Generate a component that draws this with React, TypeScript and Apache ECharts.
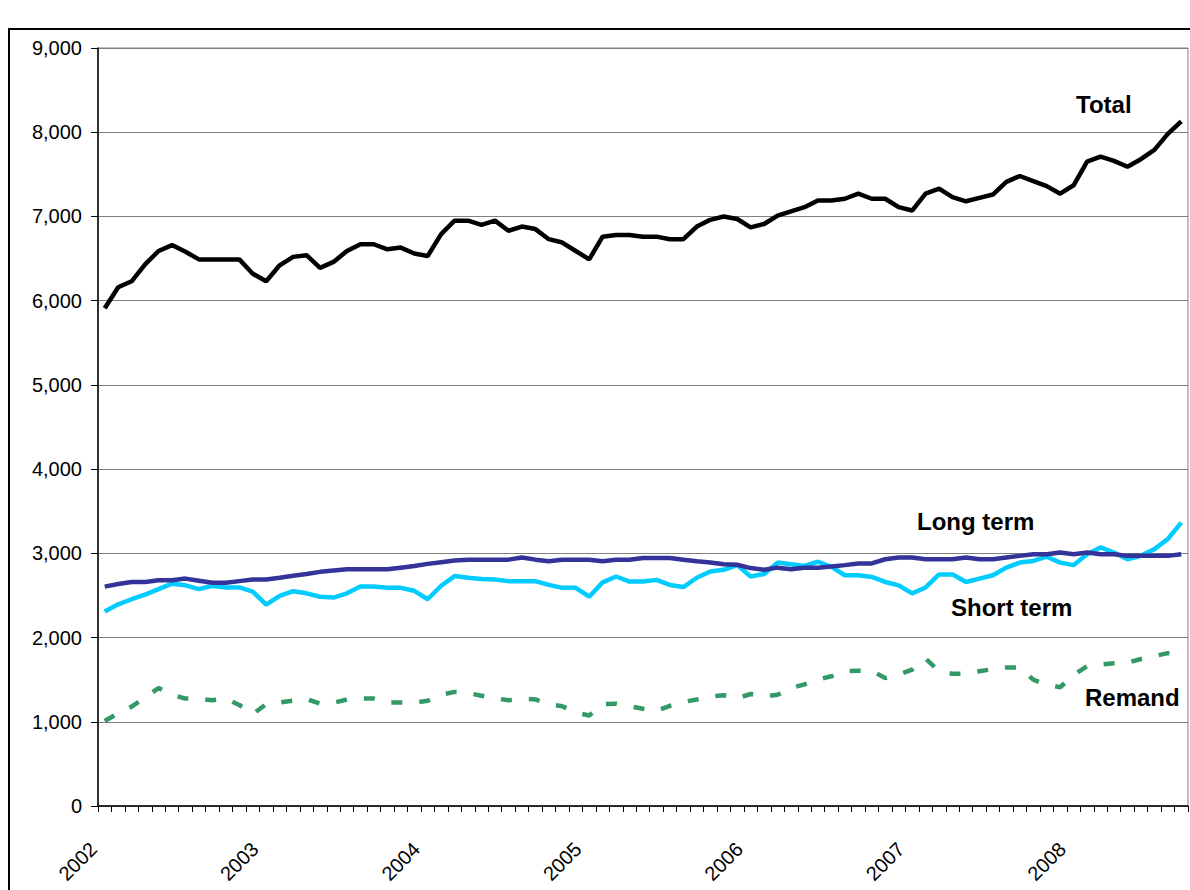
import React, { useEffect, useRef } from "react";
import * as echarts from "echarts";

// Years shown as tick labels (January of each year)
const years = ["2002", "2003", "2004", "2005", "2006", "2007", "2008"];
const monthCodes = ["01", "02", "03", "04", "05", "06", "07", "08", "09", "10", "11", "12"];
const monthCount = 81; // Jan 2002 .. Sep 2008

const categories: string[] = [];
years.forEach((y) => monthCodes.forEach((m) => categories.push(`${y}-${m}`)));
const months = categories.slice(0, monthCount);

const total = [
  5910, 6160, 6230, 6430, 6590, 6660, 6580, 6490, 6490, 6490, 6490,
  6320, 6230, 6420, 6520, 6540, 6390, 6460, 6590, 6670, 6670,
  6610, 6630, 6560, 6530, 6790, 6950, 6950, 6900, 6950, 6830,
  6880, 6850, 6730, 6690, 6590, 6490, 6760, 6780, 6780, 6760,
  6760, 6730, 6730, 6880, 6960, 7000, 6970, 6870, 6910, 7010,
  7060, 7110, 7190, 7190, 7210, 7270, 7210, 7210, 7110, 7070,
  7270, 7330, 7230, 7180, 7220, 7260, 7410, 7480, 7420, 7360,
  7270, 7370, 7650, 7710, 7660, 7590, 7680, 7790, 7980, 8130,
];

const longTerm = [
  2605, 2635, 2660, 2660, 2680, 2680, 2700, 2675, 2650, 2650, 2670,
  2690, 2690, 2710, 2735, 2755, 2780, 2795, 2810, 2810, 2810,
  2810, 2830, 2850, 2875, 2895, 2915, 2925, 2925, 2925, 2925,
  2950, 2925, 2905, 2925, 2925, 2925, 2905, 2925, 2925, 2945,
  2945, 2945, 2925, 2905, 2890, 2870, 2865, 2825, 2805, 2830,
  2810, 2830, 2830, 2845, 2860, 2880, 2880, 2930, 2950, 2950,
  2930, 2930, 2930, 2950, 2930, 2930, 2950, 2970, 2990, 2990,
  3010, 2990, 3010, 2990, 2990, 2970, 2970, 2970, 2970, 2990,
];

const shortTerm = [
  2310, 2395, 2455, 2510, 2575, 2640, 2620, 2575, 2615, 2595, 2595,
  2545, 2390, 2495, 2550, 2525, 2485, 2475, 2525, 2605, 2605,
  2590, 2590, 2555, 2455, 2615, 2730, 2710, 2695, 2690, 2670,
  2670, 2670, 2625, 2590, 2590, 2485, 2655, 2725, 2665, 2665,
  2685, 2625, 2600, 2710, 2785, 2805, 2860, 2725, 2755, 2890,
  2870, 2850, 2900, 2840, 2740, 2740, 2720, 2660, 2620, 2525,
  2595, 2750, 2750, 2660, 2700, 2740, 2830, 2890, 2910, 2960,
  2890, 2860, 2990, 3070, 3010, 2930, 2970, 3050, 3170, 3365,
];

const remand = [
  1010, 1100, 1180, 1290, 1400, 1320, 1275, 1275, 1255, 1275, 1200,
  1090, 1210, 1230, 1250, 1270, 1215, 1225, 1265, 1275, 1275,
  1230, 1230, 1225, 1250, 1320, 1355, 1340, 1310, 1280, 1255,
  1275, 1265, 1210, 1185, 1110, 1075, 1210, 1215, 1185, 1155,
  1130, 1190, 1235, 1265, 1300, 1315, 1280, 1330, 1300, 1320,
  1400, 1445, 1500, 1540, 1600, 1605, 1605, 1520, 1560, 1620,
  1750, 1600, 1570, 1570, 1600, 1625, 1645, 1645, 1500, 1440,
  1410, 1555, 1660, 1680, 1695, 1700, 1745, 1780, 1815, 1785,
];

const FONT = '"Liberation Sans", Arial, sans-serif';

export default function App() {
  const ref = useRef<HTMLDivElement>(null);

  useEffect(() => {
    if (!ref.current) return;
    const chart = echarts.init(ref.current, undefined, { renderer: "svg" });
    const label = (text: string, x: number, y: number) => ({
      type: "text",
      x,
      y,
      silent: true,
      z: 100,
      style: {
        text,
        fill: "#000",
        font: `bold 24px ${FONT}`,
        align: "left",
        verticalAlign: "middle",
      },
    });
    chart.setOption({
      animation: false,
      backgroundColor: "#ffffff",
      grid: {
        left: 98,
        top: 48,
        right: 2,
        bottom: 84,
        show: true,
        borderColor: "#808080",
        borderWidth: 1,
        backgroundColor: "transparent",
      },
      xAxis: {
        type: "category",
        data: months,
        boundaryGap: true,
        axisLine: { show: true, lineStyle: { color: "#000", width: 1.5 } },
        axisTick: { show: true, interval: 0, length: 6, lineStyle: { color: "#000", width: 1 } },
        axisLabel: {
          interval: 11,
          rotate: 45,
          fontSize: 20,
          fontFamily: FONT,
          color: "#000",
          margin: 51,
          verticalAlign: "bottom",
          padding: [0, 0, 6, 0],
          formatter: (v: string) => v.slice(0, 4),
        },
        splitLine: { show: false },
      },
      yAxis: {
        type: "value",
        min: 0,
        max: 9000,
        interval: 1000,
        axisLine: { show: true, lineStyle: { color: "#000", width: 1.5 } },
        axisTick: { show: true, length: 7, lineStyle: { color: "#000", width: 1 } },
        axisLabel: {
          fontSize: 20,
          fontFamily: FONT,
          color: "#000",
          margin: 16,
          formatter: (v: number) => v.toLocaleString("en-US"),
        },
        splitLine: { show: true, lineStyle: { color: "#808080", width: 1.2 } },
      },
      series: [
        {
          name: "Remand",
          type: "line",
          data: remand,
          symbol: "none",
          lineStyle: { color: "#339966", width: 4.5, type: [11, 17] },
          z: 2,
        },
        {
          name: "Short term",
          type: "line",
          data: shortTerm,
          symbol: "none",
          lineStyle: { color: "#00CCFF", width: 4.5 },
          z: 3,
        },
        {
          name: "Long term",
          type: "line",
          data: longTerm,
          symbol: "none",
          lineStyle: { color: "#333399", width: 4.5 },
          z: 4,
        },
        {
          name: "Total",
          type: "line",
          data: total,
          symbol: "none",
          lineStyle: { color: "#000000", width: 4.5 },
          z: 5,
        },
      ],
      graphic: [
        {
          type: "rect",
          silent: true,
          z: -10,
          shape: { x: 9, y: 29, width: 1200, height: 900 },
          style: { fill: "none", stroke: "#000", lineWidth: 2 },
        },
        label("Total", 1076, 104),
        label("Long term", 917, 521),
        label("Short term", 951, 607),
        label("Remand", 1085, 697),
      ],
    });
    return () => chart.dispose();
  }, []);

  return (
    <div
      ref={ref}
      style={{ position: "fixed", left: 0, top: 0, width: 1190, height: 890, background: "#fff" }}
    />
  );
}
